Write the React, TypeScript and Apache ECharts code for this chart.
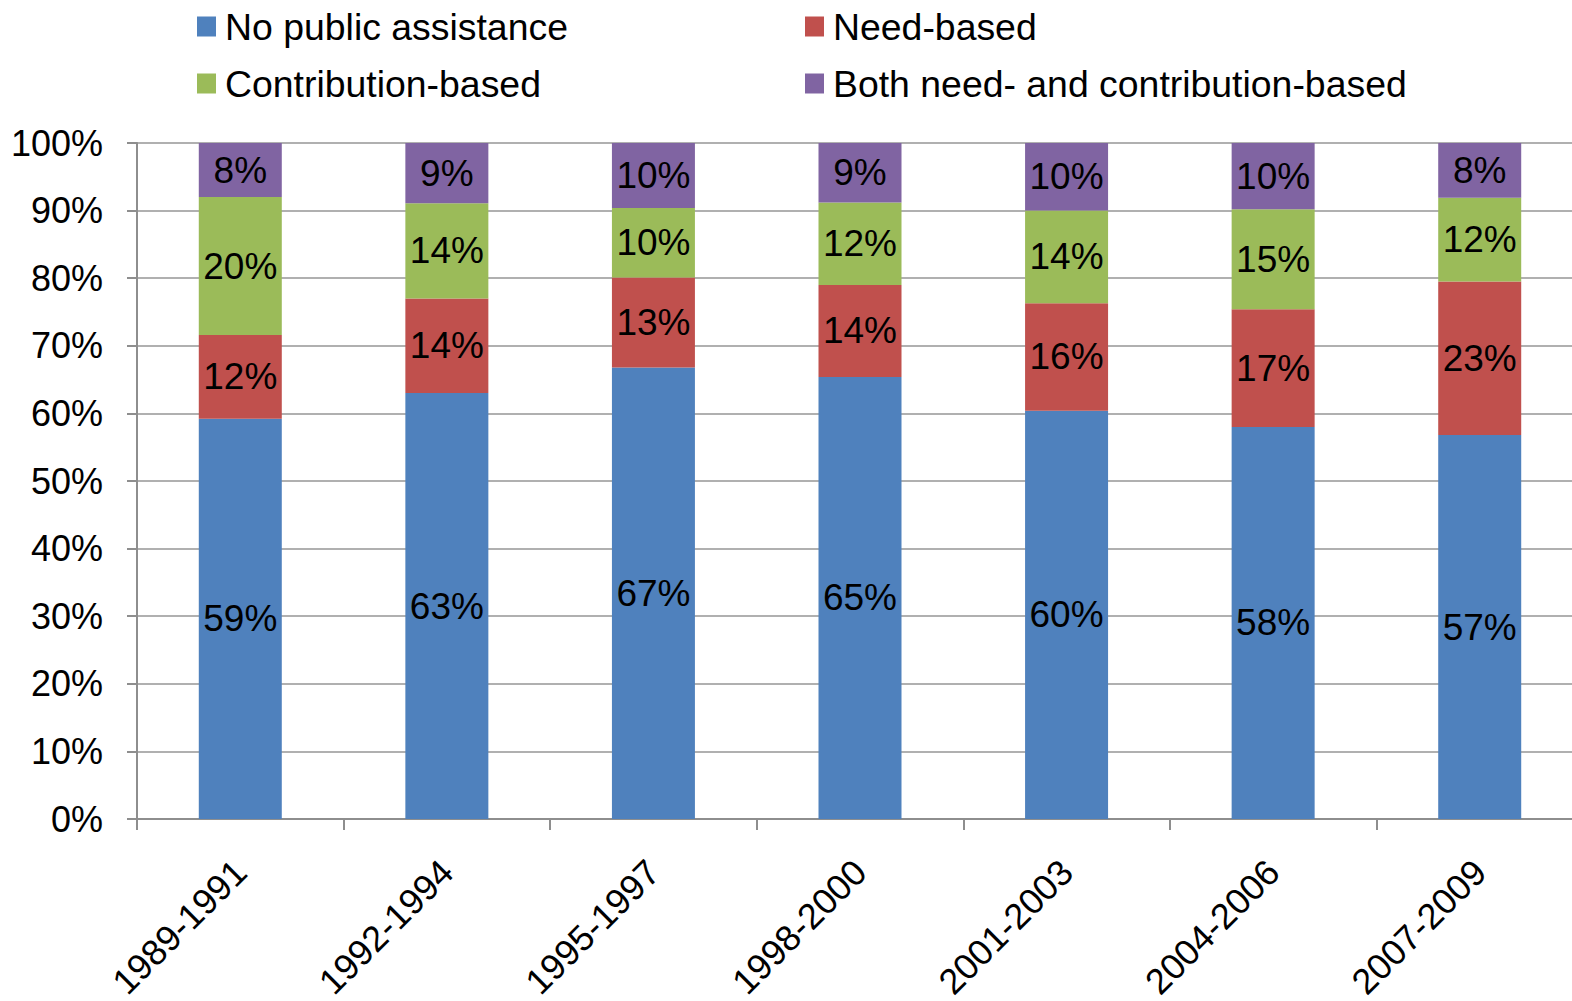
import React, { useEffect, useRef } from "react";
import * as echarts from "echarts";

const categories = ["1989-1991", "1992-1994", "1995-1997", "1998-2000", "2001-2003", "2004-2006", "2007-2009"];
const noPublic = [59.2, 63.0, 66.8, 65.4, 60.4, 58.0, 56.8];
const needBased = [12.4, 14.0, 13.3, 13.6, 15.9, 17.4, 22.7];
const contribBased = [20.4, 14.1, 10.3, 12.2, 13.7, 14.8, 12.4];
const bothBased = [8.0, 8.9, 9.6, 8.8, 10.0, 9.8, 8.1];

const seriesNames = ["No public assistance", "Need-based", "Contribution-based", "Both need- and contribution-based"];
const seriesValues = [noPublic, needBased, contribBased, bothBased];
const colors = ["#4F81BD", "#C0504D", "#9BBB59", "#8064A2"];

const FONT = "'Liberation Sans', Arial, sans-serif";

export default function App() {
  const ref = useRef<HTMLDivElement>(null);
  useEffect(() => {
    if (!ref.current) return;
    const chart = echarts.init(ref.current, null, { renderer: "svg" });
    const legendPos = [
      { left: 197, top: 8 },
      { left: 805, top: 8 },
      { left: 197, top: 65 },
      { left: 805, top: 65 },
    ];
    chart.setOption({
      animation: false,
      backgroundColor: "#ffffff",
      textStyle: { fontFamily: FONT },
      legend: seriesNames.map((n, i) => ({
        data: [n],
        left: legendPos[i].left,
        top: legendPos[i].top,
        padding: 0,
        icon: "rect",
        itemWidth: 19,
        itemHeight: 20,
        selectedMode: false,
        textStyle: { fontFamily: FONT, fontSize: 37.4, color: "#000", padding: [0, 0, 0, 4] },
      })),
      grid: { left: 137, top: 143, width: 1446, height: 676, containLabel: false, outerBoundsMode: "none" },
      xAxis: {
        type: "category",
        data: categories,
        axisLine: { lineStyle: { color: "#8e8e8e", width: 2 } },
        axisTick: { show: true, length: 11, alignWithLabel: false, lineStyle: { color: "#8e8e8e", width: 2 } },
        axisLabel: {
          rotate: 45,
          margin: 47,
          interval: 0,
          fontFamily: FONT,
          fontSize: 36,
          color: "#000",
        },
      },
      yAxis: {
        type: "value",
        min: 0,
        max: 100,
        interval: 10,
        axisLine: { show: true, lineStyle: { color: "#8e8e8e", width: 2 } },
        axisTick: { show: true, length: 10, lineStyle: { color: "#8e8e8e", width: 2 } },
        axisLabel: {
          formatter: "{value}%",
          margin: 34,
          fontFamily: FONT,
          fontSize: 36,
          color: "#000",
        },
        splitLine: { show: true, lineStyle: { color: "#969696", width: 1.5 } },
      },
      series: seriesNames.map((n, i) => ({
        name: n,
        type: "bar",
        stack: "total",
        barWidth: 83,
        data: seriesValues[i],
        itemStyle: { color: colors[i] },
        label: {
          show: true,
          position: "inside",
          formatter: (p: any) => Math.round(p.value) + "%",
          fontFamily: FONT,
          fontSize: 37,
          color: "#000",
        },
      })),
    });
    return () => chart.dispose();
  }, []);
  return (
    <div
      ref={ref}
      style={{ position: "fixed", left: 0, top: 0, width: 1572, height: 1001, overflow: "hidden", background: "#fff" }}
    />
  );
}
